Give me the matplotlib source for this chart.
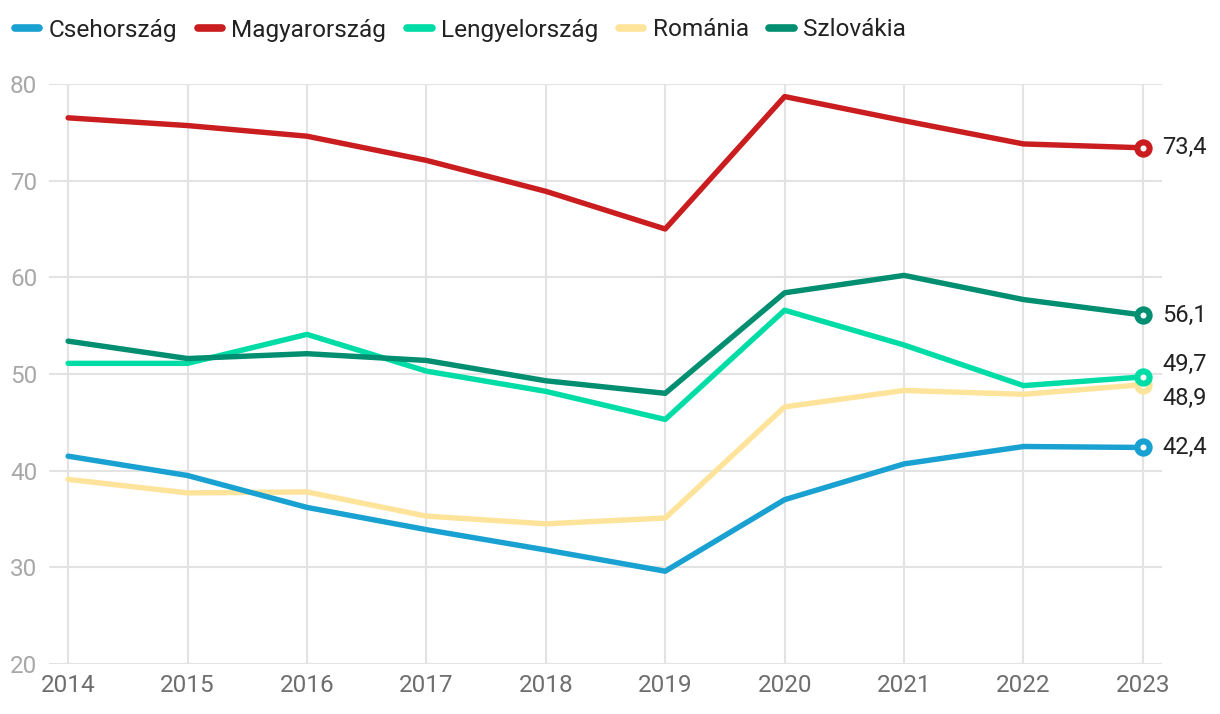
import matplotlib
matplotlib.use("Agg")
import matplotlib.pyplot as plt
from matplotlib.lines import Line2D

plt.rcParams['font.family'] = ['Roboto', 'DejaVu Sans']

years = [2014, 2015, 2016, 2017, 2018, 2019, 2020, 2021, 2022, 2023]
csehorszag = [41.5, 39.5, 36.2, 33.9, 31.8, 29.6, 37.0, 40.7, 42.5, 42.4]
magyarorszag = [76.5, 75.7, 74.6, 72.1, 68.9, 65.0, 78.7, 76.2, 73.8, 73.4]
lengyelorszag = [51.1, 51.1, 54.1, 50.3, 48.2, 45.3, 56.6, 53.0, 48.8, 49.7]
romania = [39.1, 37.7, 37.8, 35.3, 34.5, 35.1, 46.6, 48.3, 47.9, 48.9]
szlovakia = [53.4, 51.6, 52.1, 51.4, 49.3, 48.0, 58.4, 60.2, 57.7, 56.1]

names = ['Csehország', 'Magyarország', 'Lengyelország', 'Románia', 'Szlovákia']
series = [csehorszag, magyarorszag, lengyelorszag, romania, szlovakia]
colors = ['#18a1d1', '#c91d1f', '#00dca6', '#fee49a', '#028f71']
zorders = [5, 6, 4, 3, 5.5]
label_offsets = [0, 0, 9, -10, 0]  # points, vertical offset of end label

fig = plt.figure(figsize=(12.2, 7.14), dpi=100)
ax = fig.add_axes([49/1220, 50/714, (1162-49)/1220, (664-84)/714])

for name, vals, c, z, off in zip(names, series, colors, zorders, label_offsets):
    ax.plot(years, vals, color=c, lw=3.9, zorder=z, solid_capstyle='round',
            solid_joinstyle='round')
    ax.plot(years[-1], vals[-1], 'o', ms=8.8, mew=4.4, mfc='white', mec=c, zorder=z + 10)
    ax.annotate(f"{vals[-1]:.1f}".replace('.', ','), xy=(years[-1], vals[-1]),
                xytext=(14, off), textcoords='offset points', va='center', ha='left',
                fontsize=17, color='#222222', annotation_clip=False)

ax.set_xlim(2014 - 0.16, 2023 + 0.16)
ax.set_ylim(20, 80)
ax.set_yticks([20, 30, 40, 50, 60, 70, 80])
ax.set_xticks(years)
ax.grid(True, color='#e3e3e3', lw=1.5, zorder=0)
for s in ax.spines.values():
    s.set_visible(False)
ax.tick_params(axis='both', length=0)
ax.tick_params(axis='y', labelsize=17.5, labelcolor='#a8a8a8', pad=8.5)
ax.tick_params(axis='x', labelsize=17.5, labelcolor='#6e6e6e', pad=7)

handles = [Line2D([0], [0], color=c, lw=5.5, solid_capstyle='round') for c in colors]
fig.legend(handles, names, loc='center left', bbox_to_anchor=(0.002, 1 - 30/714),
           ncol=5, frameon=False, fontsize=17.6, handlelength=1.0, handletextpad=0.38,
           columnspacing=0.85, borderaxespad=0.3, borderpad=0.2, labelcolor='#222222')

fig.savefig('out.png', dpi=100)
